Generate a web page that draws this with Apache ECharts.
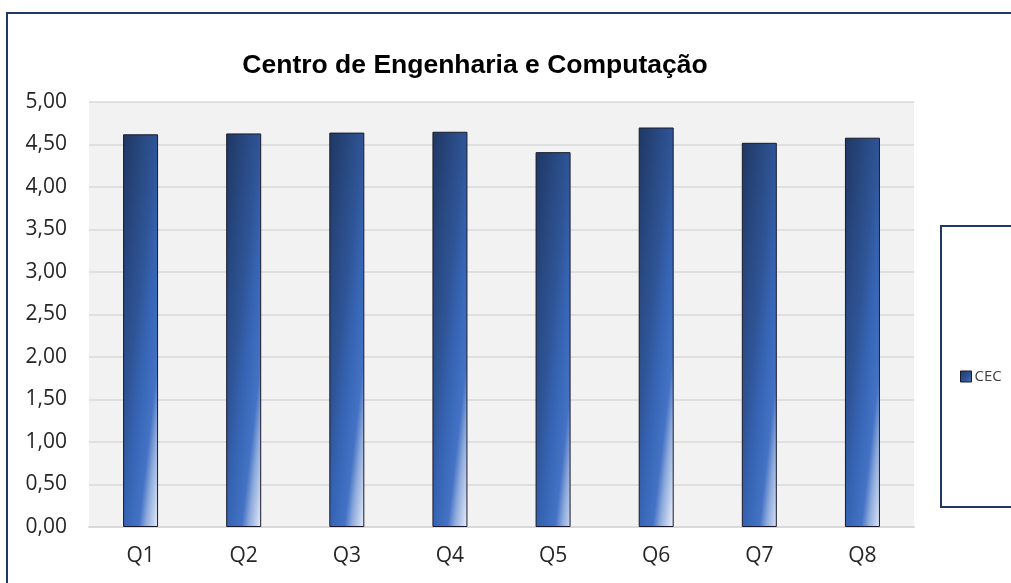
<!DOCTYPE html>
<html>
<head>
<meta charset="utf-8">
<script src="https://cdn.jsdelivr.net/npm/echarts@6/dist/echarts.min.js"></script>
<style>
html,body{margin:0;padding:0;background:#fff;}
#c{width:1011px;height:583px;}
</style>
</head>
<body>
<div id="c"></div>
<script>
const titleText = 'Centro de Engenharia e Computação';
const seriesName = 'CEC';
const categories = ['Q1','Q2','Q3','Q4','Q5','Q6','Q7','Q8'];
const values = [4.62, 4.63, 4.64, 4.65, 4.41, 4.70, 4.52, 4.58];

const chart = echarts.init(document.getElementById('c'), null, {renderer:'canvas'});
const barGrad = new echarts.graphic.LinearGradient(0, 0, 2.23, 0.023, [
  {offset:0, color:'#1f3763'},
  {offset:0.44, color:'#2f5597'},
  {offset:0.6, color:'#3765b6'},
  {offset:0.77, color:'#4472c4'},
  {offset:0.86, color:'#8eaadc'},
  {offset:1, color:'#dde6f5'}
]);
const legendGrad = new echarts.graphic.LinearGradient(0, 0, 1, 1, [
  {offset:0, color:'#1f3763'},
  {offset:0.6, color:'#2f5597'},
  {offset:1, color:'#4472c4'}
]);
chart.setOption({
  animation:false,
  backgroundColor:'#ffffff',
  title:{
    text:titleText, left:470, top:47, textAlign:'center',
    textStyle:{fontFamily:'Liberation Sans, Arial, sans-serif', fontWeight:'bold', fontSize:26.5, color:'#000'}
  },
  legend:{
    data:[{name:seriesName, icon:'rect', itemStyle:{color:legendGrad, borderColor:'#1a1a2a', borderWidth:1}}],
    left:960, top:369, orient:'vertical', padding:0,
    itemWidth:11, itemHeight:11, itemGap:4,
    textStyle:{fontFamily:'Open Sans, sans-serif', fontSize:15, color:'#404040', padding:[0,0,0,-2]}
  },
  graphic:[
    {type:'rect', shape:{x:7, y:13, width:1020, height:600}, style:{fill:'none', stroke:'#1f3864', lineWidth:2}, silent:true, z:-1},
    {type:'rect', shape:{x:941, y:226, width:100, height:281}, style:{fill:'#fff', stroke:'#1f3864', lineWidth:2}, silent:true, z:0}
  ],
  grid:{left:89, top:102, width:825, height:425, show:true, backgroundColor:'#f2f2f2', borderWidth:0},
  xAxis:{
    type:'category', data:categories,
    axisLine:{show:true, lineStyle:{color:'#d9d9d9', width:2}},
    axisTick:{show:false},
    axisLabel:{fontFamily:'Open Sans, sans-serif', fontSize:21, color:'#262626', margin:19}
  },
  yAxis:{
    type:'value', min:0, max:5, interval:0.5,
    axisLine:{show:false}, axisTick:{show:false},
    splitLine:{lineStyle:{color:'#d9d9d9', width:1.5}},
    axisLabel:{fontFamily:'Open Sans, sans-serif', fontSize:21, color:'#262626', margin:22,
      formatter:v=>v.toFixed(2).replace('.',',')}
  },
  series:[{
    name:seriesName, type:'bar', data:values, barWidth:35,
    itemStyle:{color:barGrad, borderColor:'#1a1a2a', borderWidth:1}
  }]
});
</script>
</body>
</html>
